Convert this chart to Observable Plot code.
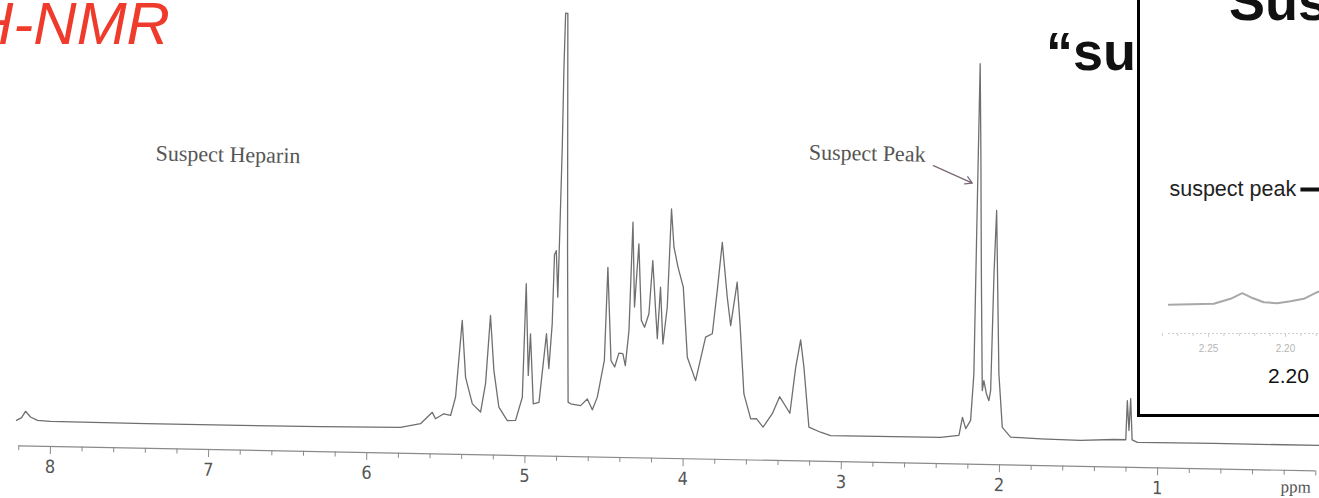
<!DOCTYPE html>
<html><head><meta charset="utf-8">
<script src="https://cdn.jsdelivr.net/npm/d3@7"></script>
<script src="https://cdn.jsdelivr.net/npm/@observablehq/plot@0.6"></script>
<style>
html,body{margin:0;padding:0;background:#fff;}
body{width:1319px;height:498px;overflow:hidden;position:relative;font-family:"Liberation Sans",Arial,sans-serif;}
#main{position:absolute;left:0;top:0;}
#main svg{transform:rotate(1.106deg);transform-origin:0px 445px;display:block;}
.title{position:absolute;white-space:nowrap;line-height:1;}
#nmr{left:-30px;top:-6px;font-size:60px;font-style:italic;color:#ef3b2c;}
#su{left:1046px;top:24px;font-size:54px;font-weight:bold;color:#111;}
#inset{position:absolute;left:1137px;top:-20px;width:220px;height:431px;border:3px solid #000;background:#fff;overflow:hidden;}
#inset svg{position:absolute;left:0;top:0;}
#sus{left:89px;top:-9px;font-size:54px;font-weight:bold;color:#111;z-index:2;}
</style></head><body>
<div id="main"></div>
<div class="title" id="nmr">H-NMR</div>
<div class="title" id="su">“su</div>
<div id="inset"><div class="title" id="sus">Sus</div></div>
<script>
// ---- main spectrum (chemical shift in ppm, relative intensity) ----
const ppm = [8.218,8.186,8.162,8.130,8.085,8.003,7.400,6.802,6.300,5.790,5.664,5.591,5.570,5.518,5.475,5.446,5.413,5.385,5.339,5.286,5.258,5.235,5.207,5.171,5.116,5.064,5.024,5.013,4.989,4.980,4.954,4.918,4.896,4.879,4.860,4.844,4.838,4.827,4.812,4.807,4.802,4.801,4.797,4.783,4.756,4.734,4.718,4.655,4.613,4.580,4.550,4.510,4.499,4.468,4.444,4.419,4.394,4.377,4.358,4.346,4.326,4.306,4.281,4.260,4.234,4.216,4.192,4.178,4.164,4.142,4.119,4.104,4.084,4.056,4.020,3.986,3.931,3.873,3.831,3.805,3.779,3.741,3.716,3.680,3.657,3.624,3.578,3.542,3.499,3.442,3.398,3.331,3.300,3.272,3.248,3.209,3.135,3.071,2.376,2.260,2.240,2.218,2.188,2.173,2.1725,2.172,2.171,2.156,2.138,2.118,2.109,2.092,2.075,2.065,2.058,2.049,2.015,1.987,1.933,1.743,1.492,1.283,1.205,1.200,1.186,1.179,1.165,1.131,0.649,-0.021];
const intensity = [0.0,0.7,2.3,0.9,0.1,-0.1,-0.2,-0.2,-0.1,0.1,1.1,4.0,2.4,3.7,3.3,7.9,27.1,12.9,6.3,4.3,11.5,28.5,14.8,5.6,2.3,2.4,8.2,36.6,13.7,24.1,6.6,7.0,16.7,24.2,15.5,26.7,44.0,45.0,33.4,50.9,70.9,90.9,104.4,104.4,45.1,7.2,6.8,6.4,8.1,5.4,8.6,17.8,41.1,17.8,16.2,19.7,19.6,16.6,25.4,52.5,31.3,47.1,28.0,26.3,29.7,43.0,30.5,23.5,36.4,22.2,31.4,56.0,46.5,41.5,36.5,19.0,13.2,24.1,25.0,35.8,47.9,34.2,27.1,38.0,27.6,10.1,3.9,4.0,1.9,5.3,9.6,5.5,17.0,23.9,17.1,2.1,0.9,0.1,0.2,0.8,5.3,2.5,4.6,16.2,46.3,66.3,93.8,72.0,41.4,12.1,14.6,11.4,9.6,12.2,41.4,57.2,16.4,3.0,0.6,0.3,0.1,0.5,0.5,10.3,2.8,10.8,0.5,-0.1,0.0,0.0];
const majorTicks = [8,7,6,5,4,3,2,1];
const minorTicks = [8.2,7.8,7.6,7.4,7.2,6.8,6.6,6.4,6.2,5.8,5.6,5.4,5.2,4.8,4.6,4.4,4.2,3.8,3.6,3.4,3.2,2.8,2.6,2.4,2.2,1.8,1.6,1.4,1.2,0.8,0.6,0.4,0.2,0];
const unitLabel = [{text:"ppm", ppm:0.22, intensity:-10.5}];
const annotations = [
  {text:"Suspect Heparin", ppm:7.371, intensity:67.4},
  {text:"Suspect Peak", ppm:3.243, intensity:70.8}
];
const pointer = [{ppm1:2.454, i1:68.1, ppm2:2.206, i2:63.9}];

// ---- inset (zoom on the suspect peak region) ----
const insetPpm = [2.2758,2.2466,2.2357,2.2281,2.2227,2.2141,2.2054,2.1968,2.1881,2.1794,2.1770];
const insetIntensity = [0.7,1.7,6.7,12.3,8.3,3.3,2.3,4.3,6.7,13.3,14.5];
const insetTicks = [2.25,2.20];
const insetMinor = [2.28,2.27,2.26,2.24,2.23,2.22,2.21,2.19,2.18];
const insetBigLabel = [2.20];
const insetNotes = [{text:"suspect peak", ppm:2.2754, intensity:116.2}];
const insetPointer = [{ppm1:2.1741, ppm2:2.1903, intensity:116}];

const spectrum = ppm.map((p,i)=>({ppm:p, intensity:intensity[i]}));
const insetData = insetPpm.map((p,i)=>({ppm:p, intensity:insetIntensity[i]}));

const grey = "#8a8a8a";
const main = Plot.plot({
  width:1319, height:498,
  marginLeft:0, marginRight:0, marginTop:19.5, marginBottom:53, insetBottom:25.5,
  x:{domain:[8.316,-0.0215], axis:null},
  y:{domain:[0,100], axis:null},
  style:{background:"transparent", fontFamily:'"Liberation Sans Narrow","DejaVu Sans Condensed",sans-serif', color:"#555"},
  marks:[
    Plot.ruleY([0], {x1:d3.max(minorTicks), x2:d3.min(minorTicks), dy:25.5, stroke:grey, strokeWidth:1.2}),
    Plot.axisX({ticks:minorTicks, tickSize:5, tickFormat:()=>"", stroke:grey}),
    Plot.axisX({ticks:majorTicks, tickSize:8, tickPadding:5.5, fontSize:18, stroke:grey, fill:"#555"}),
    Plot.line(spectrum, {x:"ppm", y:"intensity", stroke:"#6f6f6f", strokeWidth:1.3}),
    Plot.text(annotations, {x:"ppm", y:"intensity", text:"text", textAnchor:"start", fontFamily:"Liberation Serif", fontSize:22, fill:"#555"}),
    Plot.arrow(pointer, {x1:"ppm1", y1:"i1", x2:"ppm2", y2:"i2", stroke:"#7a6878", strokeWidth:1.3, headLength:9}),
    Plot.text(unitLabel, {x:"ppm", y:"intensity", text:"text", textAnchor:"start", fontFamily:"Liberation Serif", fontSize:17, fill:"#555"})
  ]
});
document.getElementById("main").appendChild(main);

const inset = Plot.plot({
  width:179, height:431,
  marginLeft:0, marginRight:0, marginTop:302, marginBottom:81, insetBottom:28,
  x:{domain:[2.2942,2.1779], axis:null},
  y:{domain:[0,20], axis:null},
  style:{background:"transparent", fontFamily:'"Liberation Sans",Arial,sans-serif', color:"#111"},
  marks:[
    Plot.ruleY([0], {x1:2.276, x2:2.1779, dy:28, stroke:"#cfcfcf", strokeDasharray:"2 2"}),
    Plot.axisX({ticks:insetMinor, tickSize:3, tickFormat:()=>"", stroke:"#cfcfcf"}),
    Plot.axisX({ticks:insetTicks, tickSize:4, tickPadding:7, fontSize:10, tickFormat:".2f", stroke:"#cfcfcf", fill:"#b5b5b5"}),
    Plot.axisX({ticks:insetBigLabel, tickSize:0, tickPadding:35, fontSize:21, tickFormat:".2f", fill:"#111", dx:3}),
    Plot.line(insetData, {x:"ppm", y:"intensity", stroke:"#a8a8a8", strokeWidth:2}),
    Plot.text(insetNotes, {x:"ppm", y:"intensity", text:"text", textAnchor:"start", fontSize:21.5, fill:"#222"}),
    Plot.link(insetPointer, {x1:"ppm1", x2:"ppm2", y1:"intensity", y2:"intensity", stroke:"#111", strokeWidth:4})
  ]
});
document.getElementById("inset").appendChild(inset);
</script>
</body></html>
